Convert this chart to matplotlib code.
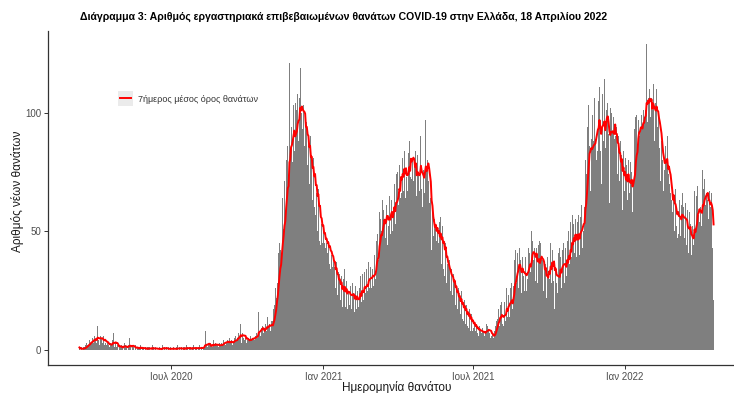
import matplotlib
matplotlib.use('Agg')
import matplotlib.pyplot as plt
import pandas as pd
from matplotlib.patches import Rectangle
from matplotlib.lines import Line2D

plt.rcParams['font.family'] = ['Liberation Sans', 'DejaVu Sans']

# ---- data: daily lab-confirmed COVID-19 deaths in Greece ----
d2020_03 = [1, 0, 1, 0, 0, 1, 1, 2, 1, 3, 2, 2, 4, 2, 6, 3, 5, 3, 6, 4]  # from 12 March
d2020_04 = [5, 3, 10, 4, 2, 6, 4, 5, 3, 6, 2, 4, 3, 2, 3, 2, 1, 2, 3, 2, 4, 7, 1, 2, 3, 1, 2, 0, 1, 2]
d2020_05 = [1, 2, 1, 0, 3, 1, 2, 1, 0, 2, 1, 5, 1, 0, 2, 1, 1, 0, 2, 0, 1, 1, 0, 1, 2, 0, 1, 0, 1, 0, 1]
d2020_06 = [0, 1, 0, 1, 1, 0, 0, 2, 0, 1, 0, 1, 0, 0, 1, 0, 1, 0, 0, 1, 2, 0, 1, 0, 1, 0, 0, 1, 0, 1]
d2020_07 = [0, 1, 0, 1, 0, 0, 1, 0, 2, 0, 1, 0, 1, 0, 0, 1, 1, 0, 2, 0, 1, 0, 1, 1, 0, 0, 1, 2, 0, 1, 0]
d2020_08 = [1, 0, 1, 2, 0, 1, 1, 0, 1, 2, 8, 1, 2, 1, 2, 2, 1, 3, 2, 1, 4, 2, 1, 3, 2, 2, 1, 3, 1, 2, 3]
d2020_09 = [2, 4, 3, 5, 2, 3, 4, 3, 2, 5, 3, 4, 2, 3, 4, 5, 6, 4, 5, 7, 4, 6, 11, 3, 7, 5, 6, 4, 5, 3]
d2020_10 = [4, 5, 3, 4, 6, 4, 5, 6, 5, 4, 6, 7, 5, 8, 16, 7, 6, 9, 10, 8, 7, 9, 11, 8, 14, 9, 10, 11, 8, 12, 10]
d2020_11 = [12, 17, 19, 26, 22, 36, 28, 41, 45, 42, 38, 55, 64, 51, 71, 58, 80, 67, 86, 70,
            121, 80, 94, 86, 79, 103, 84, 104, 88, 101]
d2020_12 = [108, 88, 106, 119, 96, 100, 93, 103, 86, 100, 80, 96, 78, 88, 70, 90, 66, 82, 63, 81,
            60, 77, 57, 66, 50, 68, 46, 61, 44, 53, 45]
d2021_01 = [50, 45, 47, 43, 45, 41, 46, 36, 48, 34, 40, 35, 37, 31, 35, 26, 37, 23, 33, 22,
            32, 21, 31, 18, 30, 20, 34, 18, 29, 17, 24]
d2021_02 = [29, 19, 27, 17, 28, 20, 24, 16, 27, 17, 25, 22, 18, 26, 31, 20, 32, 22, 21, 33,
            24, 34, 25, 29, 37, 26, 35, 26]
d2021_03 = [34, 32, 27, 40, 30, 46, 49, 44, 38, 58, 55, 50, 44, 63, 59, 55, 47, 61, 66, 44,
            52, 65, 49, 63, 68, 50, 56, 70, 53, 74, 64]
d2021_04 = [75, 61, 78, 64, 94, 66, 81, 67, 84, 64, 80, 73, 67, 83, 88, 73, 100, 72, 80, 71,
            78, 65, 84, 65, 82, 74, 67, 81, 90, 68]
d2021_05 = [60, 76, 66, 84, 97, 76, 80, 71, 62, 46, 64, 42, 60, 48, 55, 47, 53, 46, 51, 45,
            54, 38, 56, 36, 52, 34, 49, 31, 45, 28, 36]
d2021_06 = [36, 27, 38, 25, 34, 23, 32, 22, 30, 19, 27, 17, 26, 16, 24, 15, 25, 13, 20, 12,
            21, 11, 19, 10, 18, 9, 17, 8, 15, 8]
d2021_07 = [12, 9, 11, 8, 10, 7, 9, 6, 10, 8, 7, 9, 5, 8, 6, 7, 11, 9, 10, 8,
            7, 5, 6, 4, 7, 5, 8, 10, 12, 14, 13]
d2021_08 = [17, 10, 19, 10, 20, 11, 10, 20, 12, 22, 26, 14, 23, 14, 26, 15, 28, 17, 27, 38,
            42, 33, 28, 41, 26, 43, 38, 29, 24, 39, 31]
d2021_09 = [25, 39, 37, 25, 30, 43, 41, 37, 33, 50, 46, 38, 43, 35, 29, 43, 28, 44, 46, 31,
            45, 38, 38, 25, 37, 23, 36, 22, 39, 31]
d2021_10 = [43, 30, 45, 28, 42, 29, 44, 17, 35, 28, 24, 41, 27, 43, 39, 26, 42, 30, 45, 28,
            43, 31, 46, 34, 50, 36, 54, 39, 57, 41, 53]
d2021_11 = [41, 55, 39, 54, 42, 57, 40, 56, 61, 43, 64, 50, 60, 80, 74, 94, 82, 103, 86, 67,
            89, 71, 99, 88, 106, 89, 80, 103, 84, 105]
d2021_12 = [111, 84, 70, 99, 108, 88, 114, 85, 101, 89, 104, 91, 62, 102, 94, 100, 92, 98, 89, 90,
            74, 94, 74, 90, 71, 88, 64, 82, 59, 84, 67]
d2022_01 = [81, 65, 78, 63, 80, 66, 61, 79, 75, 58, 71, 93, 80, 98, 99, 85, 97, 90, 95, 92,
            99, 95, 101, 98, 105, 101, 129, 96, 106, 94, 110]
d2022_02 = [98, 106, 101, 112, 97, 88, 104, 110, 94, 99, 92, 85, 71, 88, 80, 67, 84, 76, 86, 80,
            90, 51, 74, 70, 66, 63, 58, 61]
d2022_03 = [64, 50, 68, 52, 47, 65, 49, 63, 48, 61, 66, 45, 60, 47, 62, 44, 59, 46, 41, 58,
            53, 40, 41, 52, 44, 67, 50, 65, 53, 69, 57]
d2022_04 = [54, 60, 52, 59, 76, 68, 72, 61, 66, 57, 63, 55, 67, 60, 66, 58, 43, 21]

month_starts = ['2020-03-12', '2020-04-01', '2020-05-01', '2020-06-01', '2020-07-01', '2020-08-01',
                '2020-09-01', '2020-10-01', '2020-11-01', '2020-12-01', '2021-01-01', '2021-02-01',
                '2021-03-01', '2021-04-01', '2021-05-01', '2021-06-01', '2021-07-01', '2021-08-01',
                '2021-09-01', '2021-10-01', '2021-11-01', '2021-12-01', '2022-01-01', '2022-02-01',
                '2022-03-01', '2022-04-01']
month_values = [d2020_03, d2020_04, d2020_05, d2020_06, d2020_07, d2020_08, d2020_09, d2020_10,
                d2020_11, d2020_12, d2021_01, d2021_02, d2021_03, d2021_04, d2021_05, d2021_06,
                d2021_07, d2021_08, d2021_09, d2021_10, d2021_11, d2021_12, d2022_01, d2022_02,
                d2022_03, d2022_04]

tick_dates = ['2020-07-01', '2021-01-01', '2021-07-01', '2022-01-01']
tick_labels = ['Ιουλ 2020', 'Ιαν 2021', 'Ιουλ 2021', 'Ιαν 2022']
y_ticks = [0, 50, 100]

title = 'Διάγραμμα 3: Αριθμός εργαστηριακά επιβεβαιωμένων θανάτων COVID-19 στην Ελλάδα, 18 Απριλίου 2022'
legend_label = '7ήμερος μέσος όρος θανάτων'
x_label = 'Ημερομηνία θανάτου'
y_label = 'Αριθμός νέων θανάτων'

# ---- build series ----
parts = []
for start, vals in zip(month_starts, month_values):
    idx = pd.date_range(start, periods=len(vals), freq='D')
    parts.append(pd.Series(vals, index=idx, dtype=float))
deaths = pd.concat(parts)
avg7 = deaths.rolling(7, min_periods=1).mean()

# ---- figure ----
W, H = 734, 393
fig = plt.figure(figsize=(W / 100, H / 100), dpi=100)
left, right, top, bottom = 48, 745, 31, 365
ax = fig.add_axes([left / W, (H - bottom) / H, (right - left) / W, (bottom - top) / H])
aw, ah = right - left, bottom - top

ax.bar(deaths.index, deaths.values, width=1.05, color='#7f7f7f', linewidth=0, align='center')
ax.plot(avg7.index, avg7.values, color='#ff0000', lw=1.4, solid_joinstyle='round')

ax.set_xlim(pd.Timestamp('2020-02-03'), pd.Timestamp('2022-05-26'))
ax.set_ylim(-6.4, 134.4)
ax.set_xticks([pd.Timestamp(d) for d in tick_dates])
ax.set_xticklabels(tick_labels)
ax.set_yticks(y_ticks)
ax.set_yticklabels([str(v) for v in y_ticks])

for s in ['top', 'right']:
    ax.spines[s].set_visible(False)
for s in ['left', 'bottom']:
    ax.spines[s].set_color('#333333')
    ax.spines[s].set_linewidth(0.9)
ax.tick_params(axis='both', colors='#333333', length=3, width=0.7, labelsize=7,
               labelcolor='#4d4d4d', pad=2)

ax.set_xlabel(x_label, fontsize=8.5, color='#1a1a1a')
ax.xaxis.set_label_coords((397 - left) / aw, (bottom - 381) / ah)
ax.set_ylabel(y_label, fontsize=8.5, color='#1a1a1a')
ax.yaxis.set_label_coords((24 - left) / aw, 0.52)

fig.text(344 / W, 1 - 17 / H, title, ha='center', va='center', fontsize=7.6,
         fontweight='bold', color='#000000')

leg = fig.legend(handles=[Line2D([], [], color='#ff0000', lw=1.4)], labels=[legend_label],
                 loc='center left', bbox_to_anchor=(120 / W, 1 - 99 / H),
                 bbox_transform=fig.transFigure, frameon=False, fontsize=6.5,
                 handlelength=1.2, handletextpad=0.75, borderpad=0, borderaxespad=0,
                 labelcolor='#333333')
leg.set_zorder(6)

# grey key background behind the legend line (ggplot-style legend key)
fig.canvas.draw()
hb = leg.legend_handles[0].get_window_extent()
cx, cy = (hb.x0 + hb.x1) / 2, (hb.y0 + hb.y1) / 2
ks = 15
fig.add_artist(Rectangle(((cx - ks / 2) / W, (cy - ks / 2) / H), ks / W, ks / H,
                         transform=fig.transFigure, facecolor='#ebebeb', edgecolor='none',
                         zorder=3))

fig.savefig('out.png', dpi=100)
